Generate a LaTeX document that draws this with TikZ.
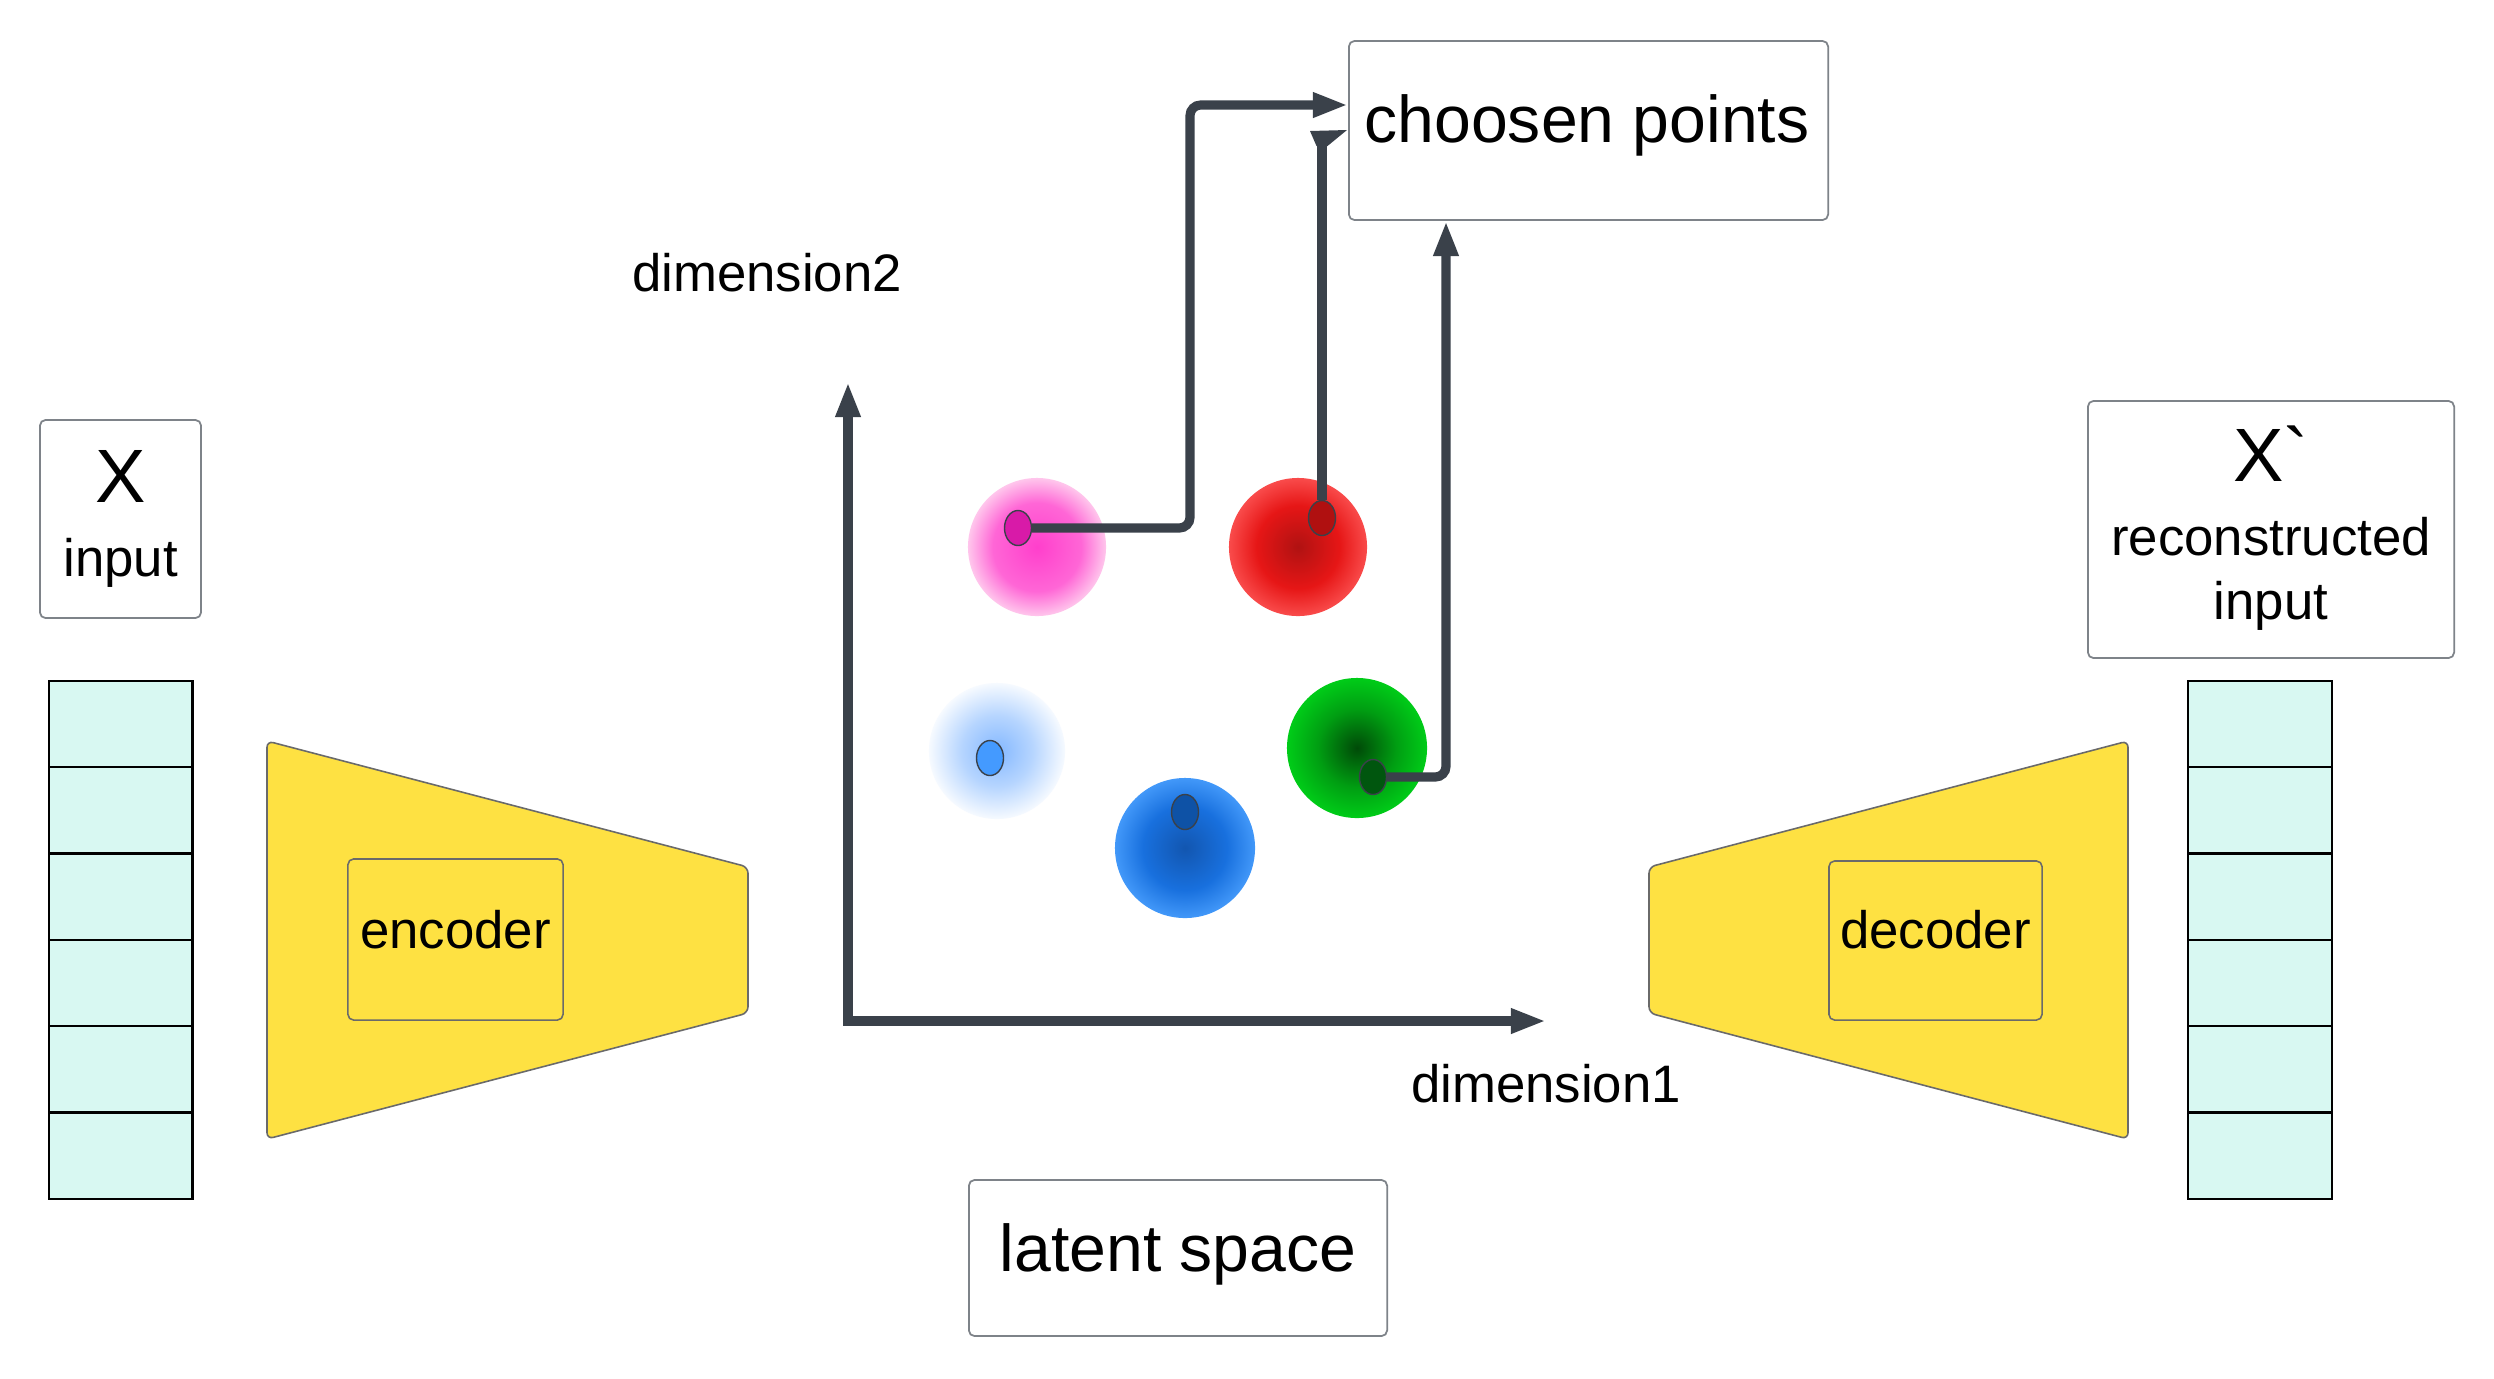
\documentclass[tikz,border=0pt]{standalone}
\usepackage{fontspec}
\setmainfont{Liberation Sans}[Ligatures=TeXOff]
\usetikzlibrary{arrows.meta,shapes.geometric}
\definecolor{lineclr}{HTML}{3A414A}
\definecolor{boxgray}{HTML}{7E8389}
\definecolor{trapfill}{HTML}{FEE142}
\definecolor{trapline}{HTML}{6A6A6A}
\definecolor{cellfill}{HTML}{D8F8F2}
\definecolor{pkC}{HTML}{FF3FCC}\definecolor{pkM}{HTML}{FF66D6}\definecolor{pkE}{HTML}{FFC6EC}
\definecolor{rdC}{HTML}{B01212}\definecolor{rdM}{HTML}{E61616}\definecolor{rdE}{HTML}{F94B4B}
\definecolor{lbC}{HTML}{84B8FF}\definecolor{lbM}{HTML}{B6D5FF}\definecolor{lbE}{HTML}{F6FAFF}
\definecolor{blC}{HTML}{1256B0}\definecolor{blM}{HTML}{1870DE}\definecolor{blE}{HTML}{4298F9}
\definecolor{gnC}{HTML}{004A08}\definecolor{gnM}{HTML}{009E12}\definecolor{gnE}{HTML}{00CC18}
\definecolor{pkD}{HTML}{D81AA8}\definecolor{rdD}{HTML}{B01010}\definecolor{lbD}{HTML}{449AFF}
\definecolor{blD}{HTML}{0E52A6}\definecolor{gnD}{HTML}{00560E}
\pgfdeclareradialshading{pinkball}{\pgfpoint{0bp}{0bp}}{color(0bp)=(pkC);color(16bp)=(pkM);color(25bp)=(pkE);color(50bp)=(pkE)}
\pgfdeclareradialshading{redball}{\pgfpoint{0bp}{0bp}}{color(0bp)=(rdC);color(15bp)=(rdM);color(25bp)=(rdE);color(50bp)=(rdE)}
\pgfdeclareradialshading{lblueball}{\pgfpoint{0bp}{0bp}}{color(0bp)=(lbC);color(13bp)=(lbM);color(25bp)=(lbE);color(50bp)=(lbE)}
\pgfdeclareradialshading{blueball}{\pgfpoint{0bp}{0bp}}{color(0bp)=(blC);color(15bp)=(blM);color(25bp)=(blE);color(50bp)=(blE)}
\pgfdeclareradialshading{greenball}{\pgfpoint{0bp}{0bp}}{color(0bp)=(gnC);color(14bp)=(gnM);color(25bp)=(gnE);color(50bp)=(gnE)}
\tikzset{
  conn/.style={draw=lineclr, line width=2.6pt, rounded corners=3pt},
  tipd/.style={-{Triangle[width=6.6pt,length=10pt]}},
  box/.style={draw=boxgray, line width=0.5pt, rounded corners=1.6pt, fill=white, inner sep=0pt},
  inbox/.style={draw=trapline, line width=0.45pt, rounded corners=1.6pt, fill=trapfill, inner sep=0pt},
  trap/.style={draw=trapline, line width=0.45pt, rounded corners=1.8pt, fill=trapfill},
  cell/.style={draw=black, line width=0.65pt, fill=cellfill},
  ball/.style={circle, inner sep=0pt, draw=none},
  dot/.style={ellipse, inner sep=0pt, minimum width=0.27cm, minimum height=0.35cm, draw=lineclr, line width=0.4pt},
  txt/.style={anchor=base, inner sep=0pt, text=black},
  bigtxt/.style={txt, font=\fontsize{18.8pt}{22pt}\selectfont},
  midtxt/.style={txt, font=\fontsize{15pt}{18pt}\selectfont},
  xtxt/.style={txt, font=\fontsize{21.5pt}{25pt}\selectfont},
}
\begin{document}
\begin{tikzpicture}[x=0.01cm,y=-0.01cm]
\useasboundingbox (0,0) rectangle (2494,1378);
\fill[white] (0,0) rectangle (2494,1378);

% input box and column
\node[box, minimum width=1.61cm, minimum height=1.98cm] (xbox) at (120.5,519) {};
\node[xtxt] (xlab) at (120.5,502) {X};
\node[midtxt] (xin) at (120.5,576) {input};
\foreach \i in {0,...,5} \draw[cell] (49,{681+86.3*\i}) rectangle ++(143.5,86.3);

% encoder
\draw[trap] (267,741) -- (748,867) -- (748,1013) -- (267,1139) -- cycle;
\node[inbox, minimum width=2.15cm, minimum height=1.61cm] (encbox) at (455.5,939.5) {};
\node[midtxt] (enc) at (455.5,948) {encoder};

% decoder
\draw[trap] (1649,867) -- (2128,741) -- (2128,1139) -- (1649,1013) -- cycle;
\node[inbox, minimum width=2.13cm, minimum height=1.59cm] (decbox) at (1935.5,940.5) {};
\node[midtxt] (dec) at (1935.5,948) {decoder};

% output box and column
\node[box, minimum width=3.66cm, minimum height=2.57cm] (xpbox) at (2271,529.5) {};
\node[xtxt] (xplab) at (2271,481) {X`};
\node[midtxt] (xprec) at (2271,555) {reconstructed};
\node[midtxt] (xpin) at (2271,619) {input};
\foreach \i in {0,...,5} \draw[cell] (2188,{681+86.3*\i}) rectangle ++(144,86.3);

% axes
\coordinate (orig) at (848,1021);
\coordinate (ytip) at (848,382);
\coordinate (xtip) at (1546,1021);
\draw[conn, tipd, shorten <=-1.3pt] (orig) -- (ytip);
\draw[conn, tipd] (orig) -- (xtip);
\node[midtxt] (dim2) at (767,291) {dimension2};
\node[midtxt] (dim1) at (1546,1102) {dimension1};

% latent space box
\node[box, minimum width=4.18cm, minimum height=1.56cm] (latbox) at (1178,1258) {};
\node[bigtxt] (lat) at (1178,1271) {latent space};

% chosen points box
\node[box, minimum width=4.79cm, minimum height=1.79cm] (cpbox) at (1588.5,130.5) {};
\node[bigtxt] (cp) at (1587,142) {choosen points};

% balls
\node[ball, minimum size=1.38cm, shading=pinkball] (pb) at (1037,547) {};
\node[ball, minimum size=1.38cm, shading=redball] (rb) at (1298,547) {};
\node[ball, minimum size=1.36cm, shading=lblueball] (lb) at (997,751) {};
\node[ball, minimum size=1.40cm, shading=blueball] (bb) at (1185,848) {};
\node[ball, minimum size=1.40cm, shading=greenball] (gb) at (1357,748) {};

% dots
\node[dot, fill=pkD] (pd) at (1018,528) {};
\node[dot, fill=rdD] (rd) at (1322,518) {};
\node[dot, fill=lbD] (ld) at (990,758) {};
\node[dot, fill=blD] (bd) at (1185,812) {};
\node[dot, fill=gnD] (gd) at (1373,777) {};

% connectors
\coordinate (pk) at (1190,105);
\draw[conn, tipd] (pd.east) -| (pk) -- (pk -| cpbox.west);
\coordinate (rtop) at (1322,146);
\draw[conn] (rd.north) -- (rtop);
\fill[lineclr] (1310,131) -- (1347,130) -- (1327.5,146) -- (1316.5,146) -- cycle;
\coordinate (gk) at (1446,777);
\draw[conn, tipd] (gd.east) -- (gk) -- (gk |- cpbox.south);
\end{tikzpicture}
\end{document}
